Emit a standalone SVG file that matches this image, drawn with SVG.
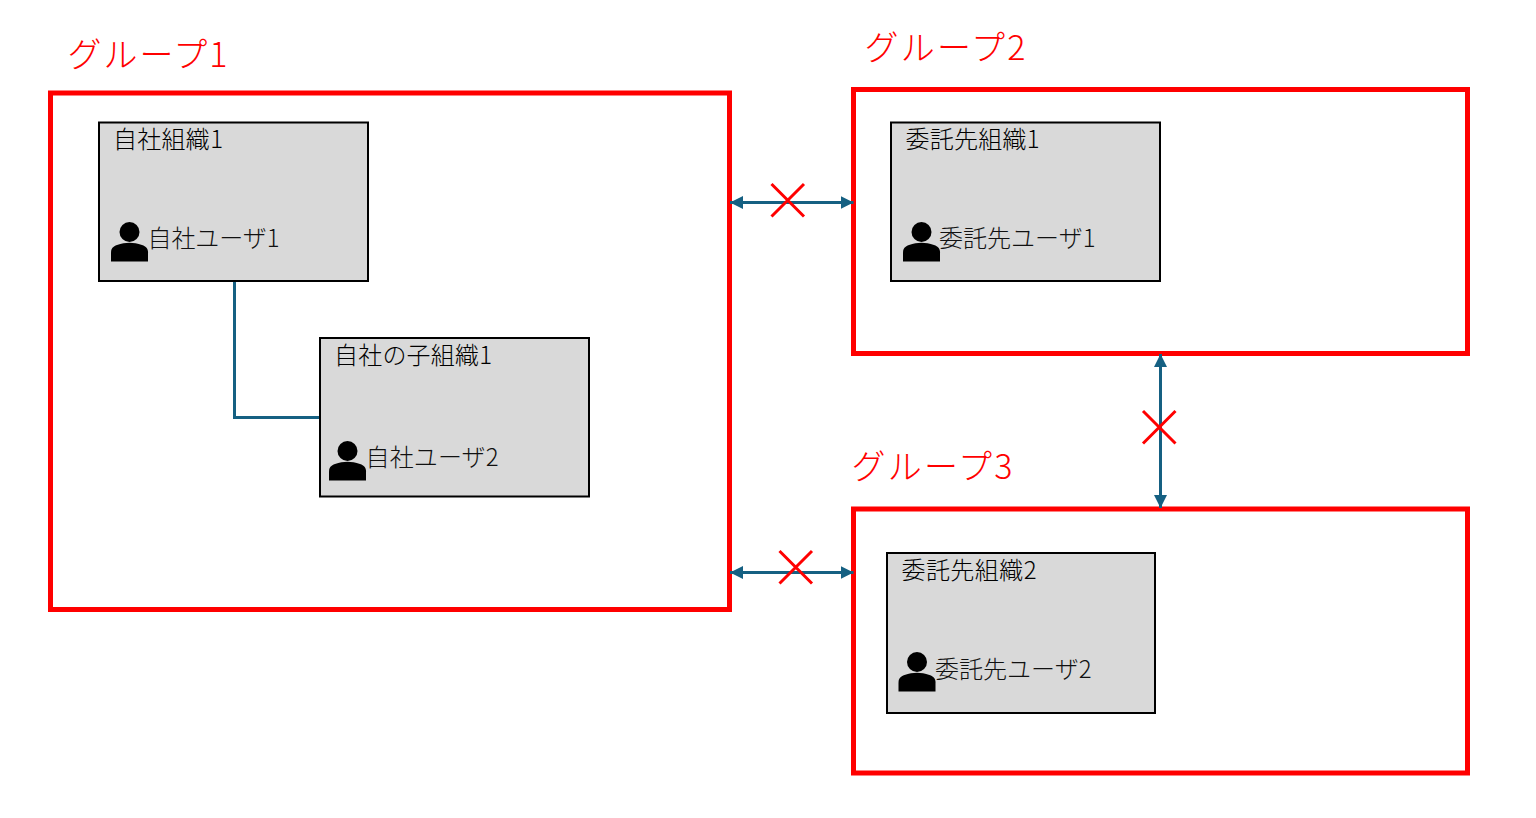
<svg xmlns="http://www.w3.org/2000/svg" width="1536" height="818" viewBox="0 0 1536 818">
<style>
.t{font-family:"Noto Sans CJK JP","Noto Sans",sans-serif}
.grp{fill:#fff;stroke:#f00;stroke-width:5}
.org{fill:#d9d9d9;stroke:#000;stroke-width:2}
.gl{font-size:34px;fill:#f00;font-weight:300}
.ol{font-size:24px;fill:#000;font-weight:300}
.ul{font-size:24px;fill:#111;font-weight:300}
.c{fill:none;stroke:#156082;stroke-width:3}
.x{fill:none;stroke:#f00;stroke-width:3}
</style>
<defs>
<marker id="a" viewBox="0 0 10 10" refX="10" refY="5" markerUnits="userSpaceOnUse" markerWidth="13" markerHeight="13" orient="auto-start-reverse"><path d="M0 0L10 5L0 10Z" fill="#156082"/></marker>
<symbol id="p" viewBox="0 0 38 40" overflow="visible"><circle cx="18.500" cy="10" r="10" fill="#000"/><path d="M0 39.500V30.500C0 26.500 2 24.500 6 23C10.500 21.500 14.500 20.800 18.500 20.800C22.500 20.800 26.500 21.500 31 23C35 24.500 37 26.500 37 30.500V39.500Z" fill="#000"/></symbol>
</defs>
<g id="group1"><rect class="grp" x="50.500" y="93" width="679" height="516.500"/><text class="t gl" x="67.500" y="67" textLength="160">グループ1</text></g>
<g id="group2"><rect class="grp" x="853.500" y="89.500" width="614" height="264"/><text class="t gl" x="864.500" y="60" textLength="161">グループ2</text></g>
<g id="group3"><rect class="grp" x="853.500" y="509" width="614" height="264"/><text class="t gl" x="851.500" y="479" textLength="161">グループ3</text></g>
<g id="connectors">
<path class="c" d="M234.500 281V417.500H320"/>
<path class="c" d="M730 202.500H853.500" marker-start="url(#a)" marker-end="url(#a)"/>
<path class="c" d="M730 572.500H853.500" marker-start="url(#a)" marker-end="url(#a)"/>
<path class="c" d="M1160.500 354V508" marker-start="url(#a)" marker-end="url(#a)"/>
</g>
<g id="org1"><rect class="org" x="99" y="122.500" width="269" height="158.500"/><text class="t ol" x="113" y="148" textLength="110">自社組織1</text><use href="#p" x="111" y="222" width="38" height="40"/><text class="t ul" x="147.500" y="247" textLength="132">自社ユーザ1</text></g>
<g id="org2"><rect class="org" x="320" y="338" width="269" height="158.500"/><text class="t ol" x="334" y="364" textLength="158">自社の子組織1</text><use href="#p" x="329" y="441" width="38" height="40"/><text class="t ul" x="365.500" y="466" textLength="133">自社ユーザ2</text></g>
<g id="org3"><rect class="org" x="891" y="122.500" width="269" height="158.500"/><text class="t ol" x="905.500" y="148" textLength="134">委託先組織1</text><use href="#p" x="903" y="222" width="38" height="40"/><text class="t ul" x="939" y="247" textLength="156.500">委託先ユーザ1</text></g>
<g id="org4"><rect class="org" x="887" y="553" width="268" height="160"/><text class="t ol" x="901.500" y="579" textLength="135">委託先組織2</text><use href="#p" x="898.500" y="652" width="38" height="40"/><text class="t ul" x="935" y="677.500" textLength="156.500">委託先ユーザ2</text></g>
<g id="crosses">
<path class="x" d="M771.500 184L804 216.500M804 184L771.500 216.500"/>
<path class="x" d="M779.500 551L812 583.500M812 551L779.500 583.500"/>
<path class="x" d="M1143 411L1175.500 443.500M1175.500 411L1143 443.500"/>
</g>
</svg>
